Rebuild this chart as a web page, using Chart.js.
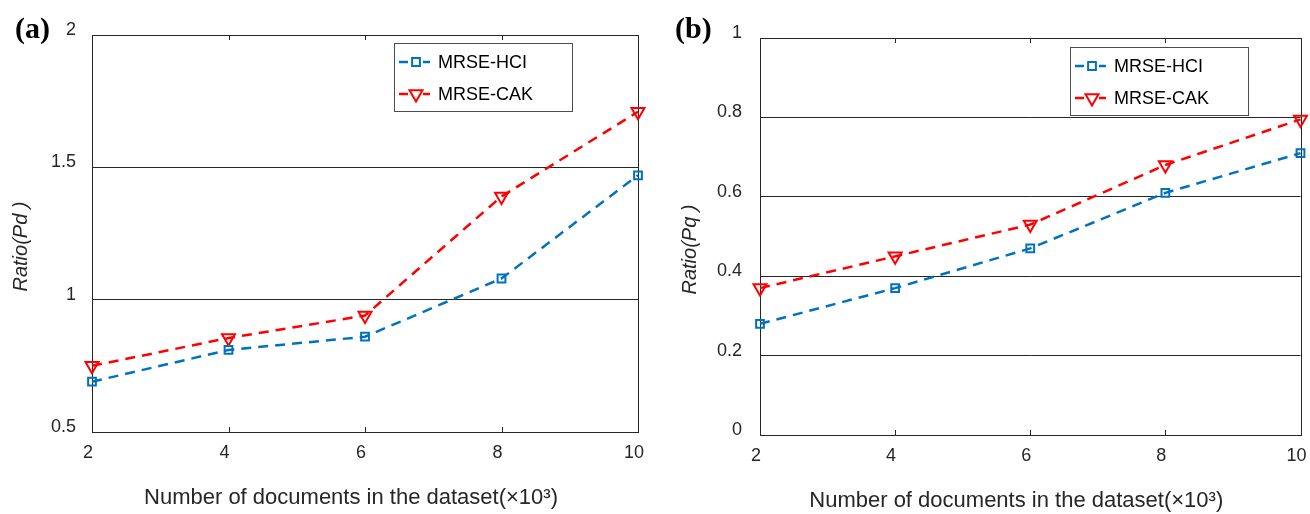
<!DOCTYPE html>
<html>
<head>
<meta charset="utf-8">
<title>Ratio vs number of documents</title>
<script src="https://cdn.jsdelivr.net/npm/chart.js@4.4.1/dist/chart.umd.min.js"></script>
<style>
  body { margin: 0; background: #fff; width: 1310px; height: 514px; overflow: hidden; position: relative; }
  .panel { position: absolute; top: 0; width: 655px; height: 514px; }
  .tag { position: absolute; top: 11px; line-height: 1; font: bold 30px "Liberation Serif", "Times New Roman", serif; color: #000; }
</style>
</head>
<body>
<div class="panel" style="left:0"><canvas id="chartA" width="655" height="514"></canvas></div>
<div class="panel" style="left:655px"><canvas id="chartB" width="655" height="514"></canvas></div>
<div class="tag" style="left:15px">(a)</div>
<div class="tag" style="left:675px">(b)</div>
<script>
// values
const docCounts = ['2', '4', '6', '8', '10'];
const seriesNames = ['MRSE-HCI', 'MRSE-CAK'];
const pdHci = [0.69, 0.81, 0.86, 1.08, 1.47];
const pdCak = [0.75, 0.855, 0.94, 1.39, 1.71];
const pqHci = [0.28, 0.37, 0.47, 0.61, 0.71];
const pqCak = [0.37, 0.45, 0.53, 0.68, 0.795];
const pdTicks = [0.5, 1, 1.5, 2];
const pqTicks = [0, 0.2, 0.4, 0.6, 0.8, 1];
const xTitle = 'Number of documents in the dataset(\u00d710\u00b3)';

const FONT = '"Liberation Sans", Arial, sans-serif';
const INK = '#262626';
const BLUE = '#0072BD';
const RED = '#FF0000';

// box around the plot, plus the small inward ticks on the x axis
const frame = {
    id: 'frame',
    beforeDatasetsDraw(chart) {
        const a = chart.chartArea;
        const ctx = chart.ctx;
        ctx.save();
        ctx.strokeStyle = INK;
        ctx.lineWidth = 1;
        ctx.strokeRect(Math.round(a.left) + 0.5, Math.round(a.top) + 0.5,
            Math.round(a.right - a.left), Math.round(a.bottom - a.top));
        const xs = chart.scales.x;
        xs.ticks.forEach((t, i) => {
            if (i === 0 || i === xs.ticks.length - 1) return;
            const px = Math.round(xs.getPixelForTick(i)) + 0.5;
            ctx.beginPath();
            ctx.moveTo(px, a.top);
            ctx.lineTo(px, a.top + 5);
            ctx.moveTo(px, a.bottom);
            ctx.lineTo(px, a.bottom - 5);
            ctx.stroke();
        });
        ctx.restore();
    }
};

// axis titles, placed the way the original figure has them
const axisTitles = {
    id: 'axisTitles',
    afterDraw(chart, args, opts) {
        const a = chart.chartArea;
        const ctx = chart.ctx;
        ctx.save();
        ctx.fillStyle = INK;
        ctx.textAlign = 'center';
        ctx.textBaseline = 'middle';
        ctx.font = '22px ' + FONT;
        ctx.fillText(opts.xText, (a.left + a.right) / 2 - 14, opts.xTitleY);
        ctx.translate(opts.yTitleX, (a.top + a.bottom) / 2 + 13);
        ctx.rotate(-Math.PI / 2);
        ctx.font = 'italic 20px ' + FONT;
        ctx.fillText(opts.yText, 0, 0);
        ctx.restore();
    }
};

// legend in a framed box inside the plot
const boxLegend = {
    id: 'boxLegend',
    afterDraw(chart, args, opts) {
        const ctx = chart.ctx;
        ctx.save();
        ctx.fillStyle = '#fff';
        ctx.fillRect(opts.x, opts.y, opts.w, opts.h);
        ctx.strokeStyle = '#4d4d4d';
        ctx.lineWidth = 1;
        ctx.strokeRect(opts.x + 0.5, opts.y + 0.5, opts.w, opts.h);
        chart.data.datasets.forEach((ds, i) => {
            const y = opts.y + 19 + i * 32;
            const x0 = opts.x + 5;
            ctx.strokeStyle = ds.borderColor;
            ctx.lineWidth = ds.borderWidth;
            ctx.setLineDash([]);
            ctx.beginPath();
            ctx.moveTo(x0, y);
            ctx.lineTo(x0 + 9, y);
            ctx.moveTo(x0 + 24, y);
            ctx.lineTo(x0 + 31, y);
            ctx.stroke();
            ctx.fillStyle = '#fff';
            ctx.lineWidth = ds.pointBorderWidth;
            Chart.helpers.drawPoint(ctx, {
                pointStyle: ds.pointStyle,
                rotation: ds.pointRotation || 0,
                radius: ds.pointRadius,
                borderWidth: ds.pointBorderWidth
            }, x0 + 17, y);
            ctx.fillStyle = '#000';
            ctx.font = '18px ' + FONT;
            ctx.textAlign = 'left';
            ctx.textBaseline = 'middle';
            ctx.fillText(ds.label, x0 + 39, y + 1);
        });
        ctx.restore();
    }
};

function makeDatasets(hci, cak) {
    return [{
        label: seriesNames[0],
        data: hci,
        borderColor: BLUE,
        borderWidth: 2.5,
        borderDash: [10, 7],
        pointStyle: 'rect',
        pointRadius: 5.5,
        pointBorderWidth: 2,
        pointBackgroundColor: 'rgba(0,0,0,0)',
        pointBorderColor: BLUE,
        tension: 0,
        clip: false
    }, {
        label: seriesNames[1],
        data: cak,
        borderColor: RED,
        borderWidth: 2.5,
        borderDash: [10, 7],
        pointStyle: 'triangle',
        pointRotation: 180,
        pointRadius: 7.5,
        pointBorderWidth: 2,
        pointBackgroundColor: 'rgba(0,0,0,0)',
        pointBorderColor: RED,
        tension: 0,
        clip: false
    }];
}

function makeChart(id, hci, cak, yMin, yMax, yTicks, box, legendBox, titles) {
    return new Chart(document.getElementById(id), {
        type: 'line',
        data: {
            labels: docCounts,
            datasets: makeDatasets(hci, cak)
        },
        options: {
            responsive: false,
            animation: false,
            devicePixelRatio: 1,
            layout: { padding: { top: box.top, right: box.right, left: 0, bottom: 0 } },
            plugins: {
                legend: { display: false },
                tooltip: { enabled: false },
                boxLegend: legendBox,
                axisTitles: titles
            },
            scales: {
                x: {
                    type: 'category',
                    offset: false,
                    border: { display: false },
                    grid: { display: false, drawTicks: false },
                    ticks: {
                        color: INK,
                        font: { family: FONT, size: 18 },
                        padding: 10,
                        labelOffset: -4,
                        maxRotation: 0,
                        autoSkip: false
                    },
                    afterFit(scale) {
                        scale.height = box.xAxisHeight;
                        scale.paddingLeft = 0;
                        scale.paddingRight = 0;
                    }
                },
                y: {
                    min: yMin,
                    max: yMax,
                    border: { display: false },
                    grid: {
                        drawTicks: false,
                        lineWidth: 1,
                        color: c => (c.index === 0 || c.index === yTicks.length - 1) ? 'rgba(0,0,0,0)' : INK
                    },
                    afterBuildTicks(scale) {
                        scale.ticks = yTicks.map(v => ({ value: v }));
                    },
                    ticks: {
                        color: INK,
                        font: { family: FONT, size: 18 },
                        padding: box.yPad,
                        labelOffset: -5,
                        callback: v => String(v)
                    },
                    afterFit(scale) {
                        scale.width = box.yAxisWidth;
                        scale.paddingTop = 0;
                        scale.paddingBottom = 0;
                    }
                }
            }
        },
        plugins: [frame, boxLegend, axisTitles]
    });
}

makeChart('chartA', pdHci, pdCak, 0.5, 2, pdTicks,
    { top: 35, right: 17, yAxisWidth: 92, xAxisHeight: 82, yPad: 16 },
    { x: 394, y: 43, w: 178, h: 68 },
    { xText: xTitle, yText: 'Ratio(Pd )', xTitleY: 498, yTitleX: 21 });

makeChart('chartB', pqHci, pqCak, 0, 1, pqTicks,
    { top: 38, right: 8, yAxisWidth: 105, xAxisHeight: 79, yPad: 18 },
    { x: 415, y: 47, w: 178, h: 68 },
    { xText: xTitle, yText: 'Ratio(Pq )', xTitleY: 501, yTitleX: 35 });
</script>
</body>
</html>
